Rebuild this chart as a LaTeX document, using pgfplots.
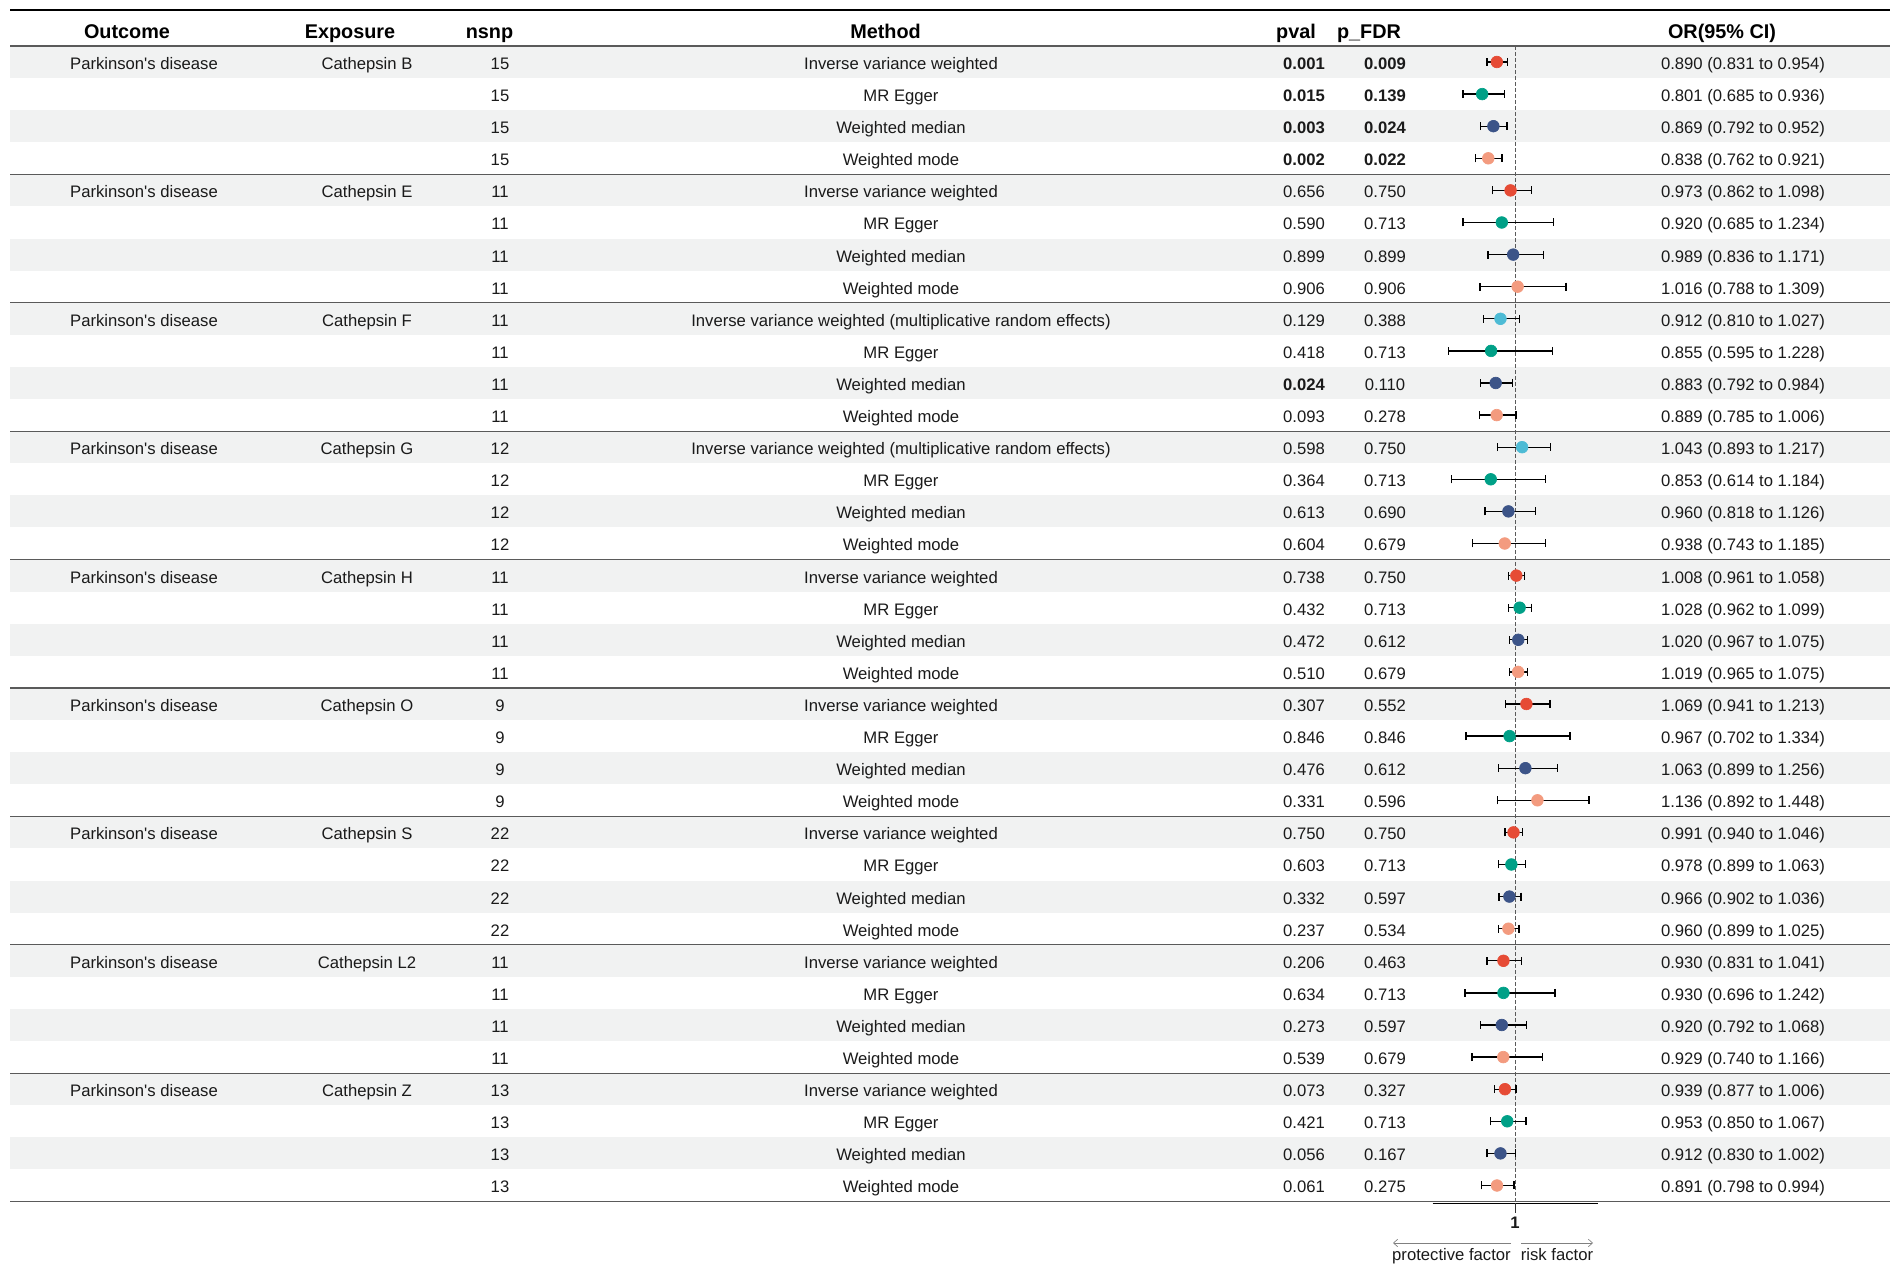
\documentclass[border=0pt]{standalone}
\usepackage{pgfplots}
\pgfplotsset{compat=1.18}
\usepackage{pgfplotstable}
\usepackage{fontspec}
\setmainfont{Liberation Sans}
\usetikzlibrary{arrows.meta}

\definecolor{cIVW}{HTML}{E64B35}
\definecolor{cMRE}{HTML}{4DBBD5}
\definecolor{cEGG}{HTML}{00A087}
\definecolor{cWMED}{HTML}{3C5488}
\definecolor{cWMOD}{HTML}{F39B7F}
\definecolor{rowgray}{HTML}{F1F2F2}
\definecolor{rulegray}{HTML}{5A5A5A}
\definecolor{txt}{HTML}{1A1A1A}

\pgfplotstableread{
row or lo hi
1 0.890 0.831 0.954
5 0.973 0.862 1.098
17 1.008 0.961 1.058
21 1.069 0.941 1.213
25 0.991 0.940 1.046
29 0.930 0.831 1.041
33 0.939 0.877 1.006
}\ivw
\pgfplotstableread{
row or lo hi
9 0.912 0.810 1.027
13 1.043 0.893 1.217
}\mre
\pgfplotstableread{
row or lo hi
2 0.801 0.685 0.936
6 0.920 0.685 1.234
10 0.855 0.595 1.228
14 0.853 0.614 1.184
18 1.028 0.962 1.099
22 0.967 0.702 1.334
26 0.978 0.899 1.063
30 0.930 0.696 1.242
34 0.953 0.850 1.067
}\egger
\pgfplotstableread{
row or lo hi
3 0.869 0.792 0.952
7 0.989 0.836 1.171
11 0.883 0.792 0.984
15 0.960 0.818 1.126
19 1.020 0.967 1.075
23 1.063 0.899 1.256
27 0.966 0.902 1.036
31 0.920 0.792 1.068
35 0.912 0.830 1.002
}\wmed
\pgfplotstableread{
row or lo hi
4 0.838 0.762 0.921
8 1.016 0.788 1.309
12 0.889 0.785 1.006
16 0.938 0.743 1.185
20 1.019 0.965 1.075
24 1.136 0.892 1.448
28 0.960 0.899 1.025
32 0.929 0.740 1.166
36 0.891 0.798 0.994
}\wmode

\pgfplotsset{forest/.style={only marks, mark=*, mark size=3.5pt, color=#1,
  error bars/.cd, x dir=both, x explicit,
  error bar style={line width=0.8pt, black},
  error mark options={rotate=90, line width=0.8pt, black, mark size=2.4pt}}}

\tikzset{bd/.style={anchor=base, font=\fontsize{10}{12}\selectfont, inner sep=0pt, text=txt},
         hd/.style={anchor=base, font=\fontsize{11.9}{14}\selectfont\bfseries, inner sep=0pt, text=black}}

\newcommand\Row[6]{%
  \node[bd] at (500,{37.4+32.1*#1}) {#2};
  \node[bd] at (901,{37.4+32.1*#1}) {#3};
  \node[bd] at (1304,{37.4+32.1*#1}) {#4};
  \node[bd] at (1385,{37.4+32.1*#1}) {#5};
  \node[bd] at (1743,{37.4+32.1*#1}) {#6};
}
\newcommand\Grp[2]{%
  \node[bd] at (144,{37.4+32.1*#1}) {Parkinson\textquotesingle s disease};
  \node[bd] at (367,{37.4+32.1*#1}) {#2};
}
\newcommand\IVW{Inverse variance weighted}
\newcommand\MRE{Inverse variance weighted (multiplicative random effects)}

\begin{document}
\begin{tikzpicture}
% background table (pixel units of the 1902x1273 picture)
\begin{scope}[x=0.6pt,y=-0.6pt,shift={(0pt,763.8pt)}]
  \path (0,0) rectangle (1902,1273);
  \foreach \i in {1,3,...,35}
    \fill[rowgray] (10,{46+32.1*(\i-1)}) rectangle (1890,{46+32.1*\i});
  \draw[black,line width=1.6pt] (10,10) -- (1890,10);
  \draw[rulegray,line width=1pt] (10,46) -- (1890,46);
  \foreach \k in {4,8,...,32}
    \draw[rulegray,line width=0.8pt] (10,{46+32.1*\k}) -- (1890,{46+32.1*\k});
  \draw[rulegray,line width=1pt] (10,1201.6) -- (1890,1201.6);
\end{scope}

\begin{axis}[scale only axis, width=1141.2pt, height=763.8pt,
  at={(0pt,0pt)}, anchor=south west,
  xmin=-8.18182, xmax=3.34545, ymin=-0.93146, ymax=38.7259, y dir=reverse,
  hide axis, clip=false]
  \draw[rulegray, line width=0.6pt, dash pattern=on 2.2pt off 1.4pt] (axis cs:1,0.5) -- (axis cs:1,36.5);
  \addplot[forest=cIVW] table[x=or, y=row, x error plus expr=\thisrow{hi}-\thisrow{or}, x error minus expr=\thisrow{or}-\thisrow{lo}] {\ivw};
  \addplot[forest=cMRE] table[x=or, y=row, x error plus expr=\thisrow{hi}-\thisrow{or}, x error minus expr=\thisrow{or}-\thisrow{lo}] {\mre};
  \addplot[forest=cEGG] table[x=or, y=row, x error plus expr=\thisrow{hi}-\thisrow{or}, x error minus expr=\thisrow{or}-\thisrow{lo}] {\egger};
  \addplot[forest=cWMED] table[x=or, y=row, x error plus expr=\thisrow{hi}-\thisrow{or}, x error minus expr=\thisrow{or}-\thisrow{lo}] {\wmed};
  \addplot[forest=cWMOD] table[x=or, y=row, x error plus expr=\thisrow{hi}-\thisrow{or}, x error minus expr=\thisrow{or}-\thisrow{lo}] {\wmode};
  \draw[black, line width=1pt] (axis cs:0.5,36.56) -- (axis cs:1.5,36.56);
  \draw[black!80, line width=0.6pt] (axis cs:1,36.56) -- (axis cs:1,36.85);
\end{axis}

\begin{scope}[x=0.6pt,y=-0.6pt,shift={(0pt,763.8pt)}]
  % header
  \node[hd] at (127,38.5) {Outcome};
  \node[hd] at (350,38.5) {Exposure};
  \node[hd] at (489.5,38.5) {nsnp};
  \node[hd] at (885.5,38.5) {Method};
  \node[hd] at (1296,38.5) {pval};
  \node[hd] at (1369,38.5) {p\_FDR};
  \node[hd] at (1722,38.5) {OR(95\% CI)};
  % groups
  \Grp{1}{Cathepsin B}
  \Grp{5}{Cathepsin E}
  \Grp{9}{Cathepsin F}
  \Grp{13}{Cathepsin G}
  \Grp{17}{Cathepsin H}
  \Grp{21}{Cathepsin O}
  \Grp{25}{Cathepsin S}
  \Grp{29}{Cathepsin L2}
  \Grp{33}{Cathepsin Z}
  % rows
  \Row{1}{15}{\IVW}{\textbf{0.001}}{\textbf{0.009}}{0.890 (0.831 to 0.954)}
  \Row{2}{15}{MR Egger}{\textbf{0.015}}{\textbf{0.139}}{0.801 (0.685 to 0.936)}
  \Row{3}{15}{Weighted median}{\textbf{0.003}}{\textbf{0.024}}{0.869 (0.792 to 0.952)}
  \Row{4}{15}{Weighted mode}{\textbf{0.002}}{\textbf{0.022}}{0.838 (0.762 to 0.921)}
  \Row{5}{11}{\IVW}{0.656}{0.750}{0.973 (0.862 to 1.098)}
  \Row{6}{11}{MR Egger}{0.590}{0.713}{0.920 (0.685 to 1.234)}
  \Row{7}{11}{Weighted median}{0.899}{0.899}{0.989 (0.836 to 1.171)}
  \Row{8}{11}{Weighted mode}{0.906}{0.906}{1.016 (0.788 to 1.309)}
  \Row{9}{11}{\MRE}{0.129}{0.388}{0.912 (0.810 to 1.027)}
  \Row{10}{11}{MR Egger}{0.418}{0.713}{0.855 (0.595 to 1.228)}
  \Row{11}{11}{Weighted median}{\textbf{0.024}}{0.110}{0.883 (0.792 to 0.984)}
  \Row{12}{11}{Weighted mode}{0.093}{0.278}{0.889 (0.785 to 1.006)}
  \Row{13}{12}{\MRE}{0.598}{0.750}{1.043 (0.893 to 1.217)}
  \Row{14}{12}{MR Egger}{0.364}{0.713}{0.853 (0.614 to 1.184)}
  \Row{15}{12}{Weighted median}{0.613}{0.690}{0.960 (0.818 to 1.126)}
  \Row{16}{12}{Weighted mode}{0.604}{0.679}{0.938 (0.743 to 1.185)}
  \Row{17}{11}{\IVW}{0.738}{0.750}{1.008 (0.961 to 1.058)}
  \Row{18}{11}{MR Egger}{0.432}{0.713}{1.028 (0.962 to 1.099)}
  \Row{19}{11}{Weighted median}{0.472}{0.612}{1.020 (0.967 to 1.075)}
  \Row{20}{11}{Weighted mode}{0.510}{0.679}{1.019 (0.965 to 1.075)}
  \Row{21}{9}{\IVW}{0.307}{0.552}{1.069 (0.941 to 1.213)}
  \Row{22}{9}{MR Egger}{0.846}{0.846}{0.967 (0.702 to 1.334)}
  \Row{23}{9}{Weighted median}{0.476}{0.612}{1.063 (0.899 to 1.256)}
  \Row{24}{9}{Weighted mode}{0.331}{0.596}{1.136 (0.892 to 1.448)}
  \Row{25}{22}{\IVW}{0.750}{0.750}{0.991 (0.940 to 1.046)}
  \Row{26}{22}{MR Egger}{0.603}{0.713}{0.978 (0.899 to 1.063)}
  \Row{27}{22}{Weighted median}{0.332}{0.597}{0.966 (0.902 to 1.036)}
  \Row{28}{22}{Weighted mode}{0.237}{0.534}{0.960 (0.899 to 1.025)}
  \Row{29}{11}{\IVW}{0.206}{0.463}{0.930 (0.831 to 1.041)}
  \Row{30}{11}{MR Egger}{0.634}{0.713}{0.930 (0.696 to 1.242)}
  \Row{31}{11}{Weighted median}{0.273}{0.597}{0.920 (0.792 to 1.068)}
  \Row{32}{11}{Weighted mode}{0.539}{0.679}{0.929 (0.740 to 1.166)}
  \Row{33}{13}{\IVW}{0.073}{0.327}{0.939 (0.877 to 1.006)}
  \Row{34}{13}{MR Egger}{0.421}{0.713}{0.953 (0.850 to 1.067)}
  \Row{35}{13}{Weighted median}{0.056}{0.167}{0.912 (0.830 to 1.002)}
  \Row{36}{13}{Weighted mode}{0.061}{0.275}{0.891 (0.798 to 0.994)}
  % x axis annotation
  \node[bd,font=\fontsize{10}{12}\selectfont\bfseries] at (1515,1229) {1};
  \draw[black!50,line width=0.4pt,-{Straight Barb[length=2.5pt,width=4.5pt]}] (1511,1243) -- (1393,1243);
  \draw[black!50,line width=0.4pt,-{Straight Barb[length=2.5pt,width=4.5pt]}] (1521,1243) -- (1593,1243);
  \node[bd] at (1451.5,1261) {protective factor};
  \node[bd] at (1557,1261) {risk factor};
\end{scope}
\end{tikzpicture}
\end{document}
